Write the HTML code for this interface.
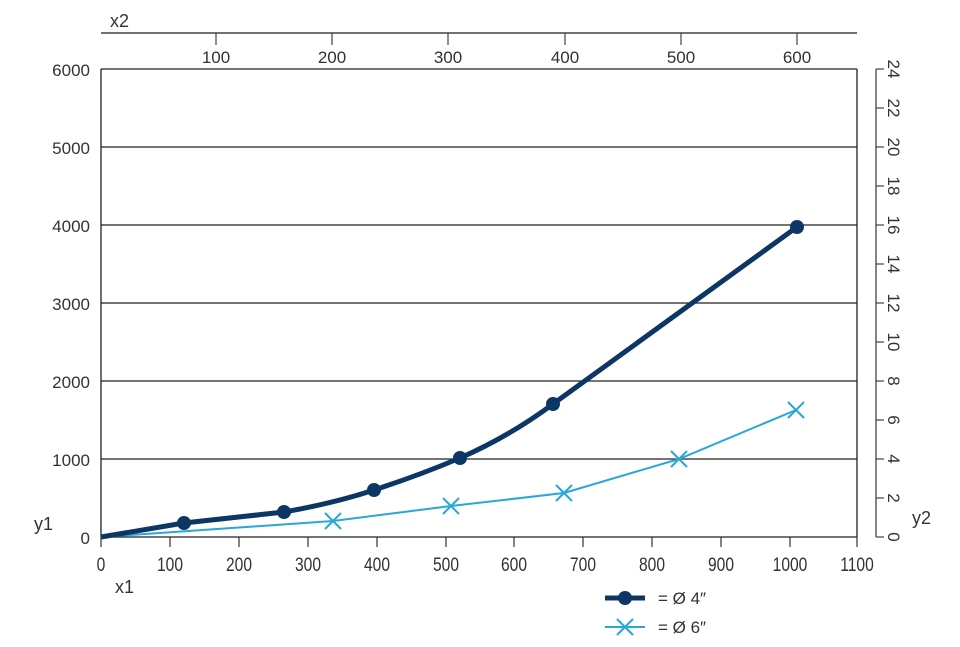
<!DOCTYPE html>
<html><head><meta charset="utf-8"><style>
body{margin:0;background:#fff;}
svg text{font-family:"Liberation Sans",sans-serif;fill:#333;}
</style></head><body>
<svg width="960" height="642" viewBox="0 0 960 642" xmlns="http://www.w3.org/2000/svg">
<line x1="101" y1="33" x2="857" y2="33" stroke="#444" stroke-width="1.5"/>
<text x="110" y="27" font-size="18">x2</text>
<g stroke="#444" stroke-width="1.2">
<line x1="216" y1="33" x2="216" y2="45"/><line x1="332" y1="33" x2="332" y2="45"/><line x1="448" y1="33" x2="448" y2="45"/><line x1="565" y1="33" x2="565" y2="45"/><line x1="681" y1="33" x2="681" y2="45"/><line x1="797" y1="33" x2="797" y2="45"/>
</g>
<g font-size="17" text-anchor="middle">
<text x="216" y="63">100</text><text x="332" y="63">200</text><text x="448" y="63">300</text><text x="565" y="63">400</text><text x="681" y="63">500</text><text x="797" y="63">600</text>
</g>
<g stroke="#222" stroke-width="1.3">
<line x1="101" y1="69" x2="857" y2="69"/><line x1="101" y1="147" x2="857" y2="147"/><line x1="101" y1="225" x2="857" y2="225"/><line x1="101" y1="303" x2="857" y2="303"/><line x1="101" y1="381" x2="857" y2="381"/><line x1="101" y1="459" x2="857" y2="459"/><line x1="101" y1="537" x2="857" y2="537"/>
<line x1="101" y1="69" x2="101" y2="537"/><line x1="857" y1="69" x2="857" y2="537"/>
</g>
<g font-size="17" text-anchor="end">
<text x="90" y="76">6000</text><text x="90" y="154">5000</text><text x="90" y="232">4000</text><text x="90" y="310">3000</text><text x="90" y="388">2000</text><text x="90" y="466">1000</text><text x="90" y="544">0</text>
</g>
<text x="34" y="530" font-size="18">y1</text>
<g stroke="#333" stroke-width="1.2">
<line x1="170" y1="537" x2="170" y2="547"/><line x1="239" y1="537" x2="239" y2="547"/><line x1="308" y1="537" x2="308" y2="547"/><line x1="377" y1="537" x2="377" y2="547"/><line x1="446" y1="537" x2="446" y2="547"/><line x1="514" y1="537" x2="514" y2="547"/><line x1="583" y1="537" x2="583" y2="547"/><line x1="652" y1="537" x2="652" y2="547"/><line x1="721" y1="537" x2="721" y2="547"/><line x1="790" y1="537" x2="790" y2="547"/><line x1="857" y1="537" x2="857" y2="547"/><line x1="101" y1="537" x2="101" y2="547"/>
</g>
<g font-size="19" text-anchor="middle">
<text x="101" y="571" transform="translate(101 0) scale(0.82 1) translate(-101 0)">0</text>
<text x="170" y="571" transform="translate(170 0) scale(0.82 1) translate(-170 0)">100</text>
<text x="239" y="571" transform="translate(239 0) scale(0.82 1) translate(-239 0)">200</text>
<text x="308" y="571" transform="translate(308 0) scale(0.82 1) translate(-308 0)">300</text>
<text x="377" y="571" transform="translate(377 0) scale(0.82 1) translate(-377 0)">400</text>
<text x="446" y="571" transform="translate(446 0) scale(0.82 1) translate(-446 0)">500</text>
<text x="514" y="571" transform="translate(514 0) scale(0.82 1) translate(-514 0)">600</text>
<text x="583" y="571" transform="translate(583 0) scale(0.82 1) translate(-583 0)">700</text>
<text x="652" y="571" transform="translate(652 0) scale(0.82 1) translate(-652 0)">800</text>
<text x="721" y="571" transform="translate(721 0) scale(0.82 1) translate(-721 0)">900</text>
<text x="790" y="571" transform="translate(790 0) scale(0.82 1) translate(-790 0)">1000</text>
<text x="857" y="571" transform="translate(857 0) scale(0.82 1) translate(-857 0)">1100</text>
</g>
<text x="115" y="593" font-size="18">x1</text>
<line x1="876" y1="69" x2="876" y2="537" stroke="#444" stroke-width="1.3"/>
<g stroke="#444" stroke-width="1.2">
<line x1="876" y1="537" x2="884" y2="537"/><line x1="876" y1="498" x2="884" y2="498"/><line x1="876" y1="459" x2="884" y2="459"/><line x1="876" y1="420" x2="884" y2="420"/><line x1="876" y1="381" x2="884" y2="381"/><line x1="876" y1="342" x2="884" y2="342"/><line x1="876" y1="303" x2="884" y2="303"/><line x1="876" y1="264" x2="884" y2="264"/><line x1="876" y1="225" x2="884" y2="225"/><line x1="876" y1="186" x2="884" y2="186"/><line x1="876" y1="147" x2="884" y2="147"/><line x1="876" y1="108" x2="884" y2="108"/><line x1="876" y1="69" x2="884" y2="69"/>
</g>
<g font-size="17" text-anchor="middle">
<text transform="translate(888 537) rotate(90)">0</text>
<text transform="translate(888 498) rotate(90)">2</text>
<text transform="translate(888 459) rotate(90)">4</text>
<text transform="translate(888 420) rotate(90)">6</text>
<text transform="translate(888 381) rotate(90)">8</text>
<text transform="translate(888 342) rotate(90)">10</text>
<text transform="translate(888 303) rotate(90)">12</text>
<text transform="translate(888 264) rotate(90)">14</text>
<text transform="translate(888 225) rotate(90)">16</text>
<text transform="translate(888 186) rotate(90)">18</text>
<text transform="translate(888 147) rotate(90)">20</text>
<text transform="translate(888 108) rotate(90)">22</text>
<text transform="translate(888 69) rotate(90)">24</text>
</g>
<text x="912" y="524" font-size="18">y2</text>
<path d="M101,537 L333,521 L451,506 L564,493 L679,459 L796,410" fill="none" stroke="#2aa6d9" stroke-width="2"/>
<g stroke="#2aa6d9" stroke-width="2">
<path d="M325,513 L341,529 M341,513 L325,529"/>
<path d="M443,498 L459,514 M459,498 L443,514"/>
<path d="M556,485 L572,501 M572,485 L556,501"/>
<path d="M671,451 L687,467 M687,451 L671,467"/>
<path d="M788,402 L804,418 M804,402 L788,418"/>
</g>
<path d="M101,537 L184,523 Q240,517 284,512 Q335,503 374,490 Q420,475 460,458 Q510,436 553,404 L797,227" fill="none" stroke="#0c3765" stroke-width="5" stroke-linejoin="round"/>
<g fill="#0c3765">
<circle cx="184" cy="523" r="7"/><circle cx="284" cy="512" r="7"/><circle cx="374" cy="490" r="7"/><circle cx="460" cy="458" r="7"/><circle cx="553" cy="404" r="7"/><circle cx="797" cy="227" r="7"/>
</g>
<line x1="605" y1="598" x2="645" y2="598" stroke="#0c3765" stroke-width="5"/>
<circle cx="625" cy="598" r="7" fill="#0c3765"/>
<text x="658" y="604" font-size="17">= Ø 4″</text>
<line x1="605" y1="627" x2="645" y2="627" stroke="#2aa6d9" stroke-width="2"/>
<path d="M617,619 L633,635 M633,619 L617,635" stroke="#2aa6d9" stroke-width="2"/>
<text x="658" y="633" font-size="17">= Ø 6″</text>
</svg>
</body></html>
